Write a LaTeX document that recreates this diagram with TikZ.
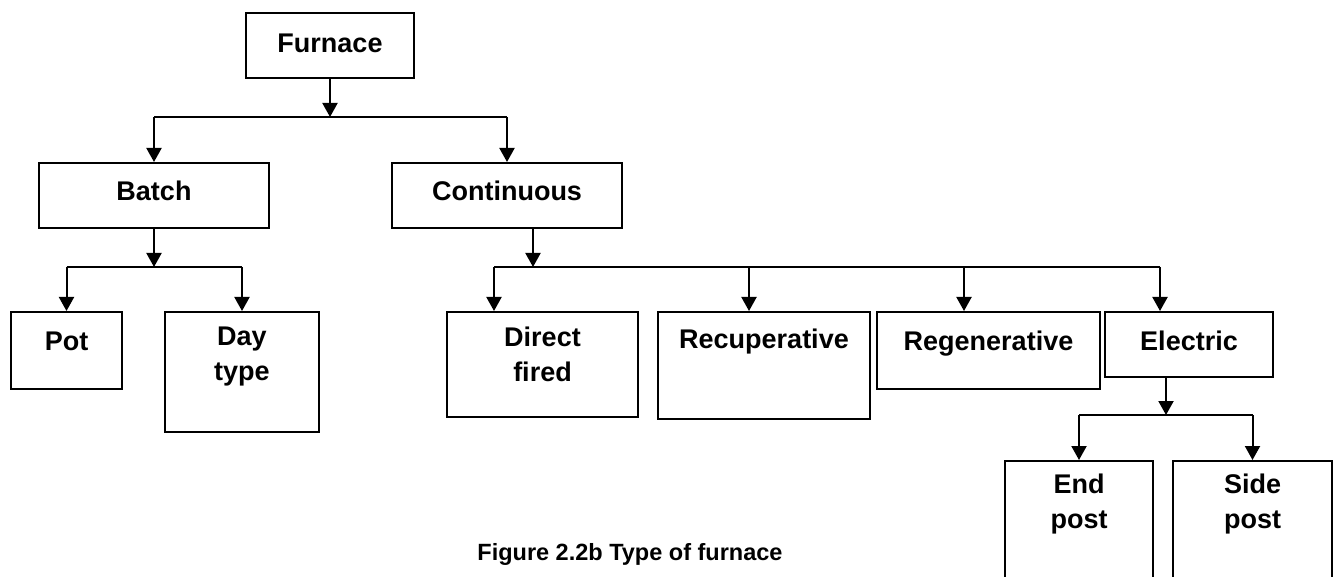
\documentclass[tikz,border=0pt]{standalone}
\usepackage{fontspec}
\setmainfont{Liberation Sans}
\usetikzlibrary{arrows.meta}

\tikzset{
  box/.style={draw, line width=0.9pt, inner sep=0pt, anchor=north, align=center,
    font=\fontsize{13.5}{17.5}\selectfont\bfseries},
  arr/.style={line width=1pt, -{Triangle[length=7pt,width=7.5pt]}},
  bus/.style={line width=1pt}
}

\begin{document}
\begin{tikzpicture}[x=0.5pt,y=-0.5pt]%% furnace tree
    \useasboundingbox (0,0) rectangle (1333,577);
    \clip (0,0) rectangle (1333,577);


        \node[box, minimum width=84pt, text height=20pt, text depth=12.5pt] (furnace) at (330,12) {Furnace};
        \coordinate (fjoin) at (330,117);
        \draw[arr] (furnace.south) to (fjoin);
            \node[box, minimum width=115pt, text height=19pt, text depth=13.5pt] (batch) at (154,162) {Batch};
            \node[box, minimum width=115pt, text height=19pt, text depth=13.5pt] (continuous) at (507,162) {Continuous};
            \draw[bus] (batch.north |- fjoin) to (continuous.north |- fjoin);
            \draw[arr] (batch.north |- fjoin) to (batch.north);
            \draw[arr] (continuous.north |- fjoin) to (continuous.north);


        \coordinate (bjoin) at (154,267);
        \draw[arr] (batch.south) to (bjoin);
            \node[box, minimum width=55.5pt, text height=19.5pt, text depth=19pt] (pot) at (66.5,311) {Pot};
            \node[box, minimum width=77pt, text height=34.5pt, text depth=25.5pt] (daytype) at (242,311) {Day\\type};
            \draw[bus] (pot.north |- bjoin) to (daytype.north |- bjoin);
            \draw[arr] (pot.north |- bjoin) to (pot.north);
            \draw[arr] (daytype.north |- bjoin) to (daytype.north);


        \coordinate (cjoin) at (533,267);
        \draw[arr] (continuous.south -| cjoin) to (cjoin);
            \node[box, minimum width=95.5pt, text height=35pt, text depth=17.5pt] (direct) at (542.5,311) {Direct\\fired};
            \node[box, minimum width=106pt, text height=18.5pt, text depth=35pt] (recup) at (764,311) {Recuperative};
            \node[box, minimum width=111.5pt, text height=19.5pt, text depth=19pt] (regen) at (988.5,311) {Regenerative};
            \node[box, minimum width=84pt, text height=19.5pt, text depth=13pt] (electric) at (1189,311) {Electric};
            \foreach \n/\x in {direct/494, recup/749, regen/964, electric/1160}{
                \coordinate (\n-in) at (\x,267);
                \draw[arr] (\n-in) to (\n.north -| \n-in);
            }
            \draw[bus] (direct-in) to (electric-in);


        \coordinate (ejoin) at (1166,415);
        \draw[arr] (electric.south -| ejoin) to (ejoin);
            \node[box, minimum width=74pt, text height=34pt, text depth=46pt] (endpost) at (1079,460) {End\\post};
            \node[box, minimum width=79.5pt, text height=34pt, text depth=46pt] (sidepost) at (1252.5,460) {Side\\post};
            \draw[bus] (endpost.north |- ejoin) to (sidepost.north |- ejoin);
            \draw[arr] (endpost.north |- ejoin) to (endpost.north);
            \draw[arr] (sidepost.north |- ejoin) to (sidepost.north);


        \node[anchor=base west, inner sep=0pt, font=\fontsize{11.75}{14}\selectfont\bfseries] (caption) at (477,560) {Figure 2.2b Type of furnace};

\end{tikzpicture}
\end{document}
